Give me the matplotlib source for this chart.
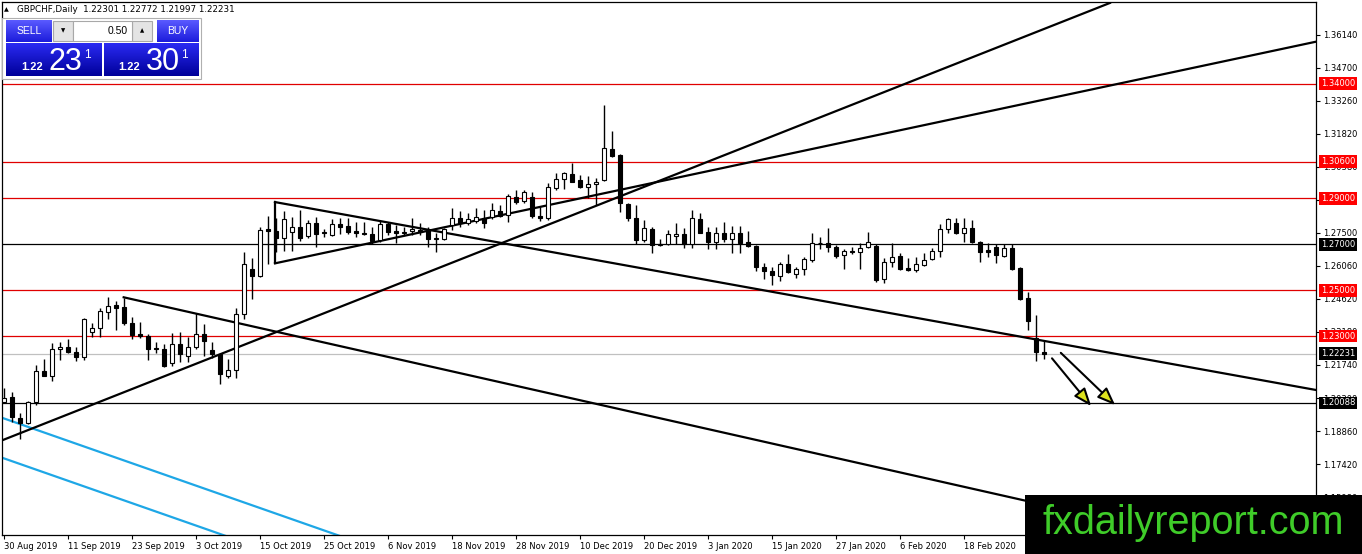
import numpy as np
import pandas as pd
import matplotlib
matplotlib.use("Agg")
import matplotlib.pyplot as plt
from matplotlib.colors import LinearSegmentedColormap
from matplotlib.patches import Rectangle

# GBPCHF daily candles, 30 Aug 2019 .. 3 Mar 2020
opens = [
    1.2011, 1.2034, 1.1943, 1.1921, 1.2012, 1.2148, 1.2126, 1.2244, 1.2252, 1.2230,
    1.2209, 1.2318, 1.2335, 1.2405, 1.2435, 1.2427, 1.2357, 1.2309, 1.2300, 1.2248,
    1.2244, 1.2182, 1.2265, 1.2213, 1.2252, 1.2309, 1.2239, 1.2222, 1.2126, 1.2152,
    1.2396, 1.2592, 1.2562, 1.2767, 1.2758, 1.2727, 1.2754, 1.2776, 1.2736, 1.2793,
    1.2754, 1.2741, 1.2789, 1.2780, 1.2759, 1.2751, 1.2745, 1.2719, 1.2789, 1.2758,
    1.2750, 1.2758, 1.2762, 1.2762, 1.2722, 1.2722, 1.2784, 1.2813, 1.2792, 1.2803,
    1.2813, 1.2820, 1.2847, 1.2828, 1.2905, 1.2889, 1.2905, 1.2825, 1.2816, 1.2944,
    1.2985, 1.3005, 1.2980, 1.2949, 1.2963, 1.2980, 1.3116, 1.3089, 1.2874, 1.2813,
    1.2719, 1.2767, 1.2697, 1.2700, 1.2738, 1.2744, 1.2701, 1.2809, 1.2752, 1.2711,
    1.2748, 1.2722, 1.2748, 1.2709, 1.2693, 1.2600, 1.2585, 1.2562, 1.2614, 1.2571,
    1.2591, 1.2632, 1.2707, 1.2707, 1.2690, 1.2653, 1.2671, 1.2665, 1.2687, 1.2694,
    1.2549, 1.2622, 1.2649, 1.2598, 1.2588, 1.2610, 1.2635, 1.2671, 1.2767, 1.2792,
    1.2748, 1.2770, 1.2709, 1.2675, 1.2690, 1.2650, 1.2685, 1.2595, 1.2465, 1.2293,
    1.22301,
]
highs = [
    1.2075, 1.2056, 1.1965, 1.2017, 1.2174, 1.2200, 1.2270, 1.2274, 1.2287, 1.2252,
    1.2379, 1.2357, 1.2422, 1.2470, 1.2453, 1.2466, 1.2383, 1.2361, 1.2309, 1.2274,
    1.2265, 1.2313, 1.2318, 1.2296, 1.2400, 1.2352, 1.2274, 1.2226, 1.2200, 1.2422,
    1.2666, 1.2640, 1.2776, 1.2823, 1.2815, 1.2845, 1.2819, 1.2850, 1.2806, 1.2819,
    1.2767, 1.2810, 1.2815, 1.2815, 1.2799, 1.2799, 1.2777, 1.2803, 1.2799, 1.2784,
    1.2774, 1.2813, 1.2794, 1.2774, 1.2748, 1.2770, 1.2857, 1.2846, 1.2836, 1.2858,
    1.2850, 1.2880, 1.2871, 1.2919, 1.2937, 1.2937, 1.2929, 1.2863, 1.2966, 1.3010,
    1.3014, 1.3053, 1.3002, 1.2998, 1.2989, 1.3307, 1.3194, 1.3092, 1.2879, 1.2871,
    1.2806, 1.2777, 1.2723, 1.2762, 1.2792, 1.2770, 1.2850, 1.2835, 1.2777, 1.2777,
    1.2796, 1.2780, 1.2780, 1.2759, 1.2697, 1.2617, 1.2602, 1.2624, 1.2658, 1.2602,
    1.2643, 1.2751, 1.2731, 1.2770, 1.2697, 1.2678, 1.2690, 1.2704, 1.2752, 1.2700,
    1.2642, 1.2704, 1.2661, 1.2639, 1.2646, 1.2661, 1.2685, 1.2787, 1.2813, 1.2813,
    1.2813, 1.2806, 1.2714, 1.2704, 1.2700, 1.2700, 1.2700, 1.2602, 1.2491, 1.2392,
    1.22772,
]
lows = [
    1.2007, 1.1925, 1.1851, 1.1917, 1.1999, 1.2124, 1.2104, 1.2196, 1.2226, 1.2191,
    1.2196, 1.2296, 1.2296, 1.2374, 1.2326, 1.2348, 1.2287, 1.2291, 1.2196, 1.2226,
    1.2165, 1.2169, 1.2187, 1.2187, 1.2244, 1.2213, 1.2204, 1.2091, 1.2117, 1.2117,
    1.2374, 1.2462, 1.2557, 1.2614, 1.2666, 1.2671, 1.2671, 1.2714, 1.2727, 1.2688,
    1.2732, 1.2736, 1.2745, 1.2745, 1.2733, 1.2741, 1.2701, 1.2711, 1.2741, 1.2704,
    1.2741, 1.2741, 1.2741, 1.2687, 1.2668, 1.2719, 1.2762, 1.2777, 1.2784, 1.2793,
    1.2771, 1.2810, 1.2820, 1.2799, 1.2876, 1.2880, 1.2816, 1.2802, 1.2806, 1.2937,
    1.2941, 1.2970, 1.2944, 1.2900, 1.2871, 1.2976, 1.3082, 1.2842, 1.2802, 1.2700,
    1.2711, 1.2661, 1.2692, 1.2697, 1.2700, 1.2683, 1.2683, 1.2748, 1.2678, 1.2678,
    1.2711, 1.2663, 1.2663, 1.2690, 1.2585, 1.2547, 1.2523, 1.2541, 1.2576, 1.2552,
    1.2566, 1.2624, 1.2678, 1.2668, 1.2640, 1.2591, 1.2656, 1.2592, 1.2683, 1.2537,
    1.2530, 1.2602, 1.2588, 1.2585, 1.2578, 1.2605, 1.2632, 1.2646, 1.2748, 1.2744,
    1.2711, 1.2704, 1.2624, 1.2646, 1.2617, 1.2646, 1.2588, 1.2457, 1.2326, 1.2191,
    1.21997,
]
closes = [
    1.2029, 1.1947, 1.1921, 1.2012, 1.2148, 1.2126, 1.2244, 1.2252, 1.2230, 1.2209,
    1.2374, 1.2335, 1.2409, 1.2431, 1.2422, 1.2357, 1.2305, 1.2300, 1.2244, 1.2244,
    1.2169, 1.2265, 1.2222, 1.2252, 1.2309, 1.2278, 1.2222, 1.2135, 1.2152, 1.2396,
    1.2614, 1.2562, 1.2762, 1.2758, 1.2727, 1.2810, 1.2776, 1.2727, 1.2793, 1.2745,
    1.2750, 1.2789, 1.2776, 1.2754, 1.2748, 1.2745, 1.2716, 1.2789, 1.2755, 1.2748,
    1.2755, 1.2765, 1.2755, 1.2722, 1.2726, 1.2765, 1.2813, 1.2792, 1.2809, 1.2818,
    1.2792, 1.2850, 1.2823, 1.2911, 1.2886, 1.2927, 1.2825, 1.2816, 1.2949, 1.2983,
    1.3010, 1.2973, 1.2949, 1.2963, 1.2971, 1.3121, 1.3086, 1.2879, 1.2813, 1.2719,
    1.2770, 1.2697, 1.2700, 1.2744, 1.2744, 1.2700, 1.2813, 1.2751, 1.2711, 1.2748,
    1.2722, 1.2748, 1.2707, 1.2694, 1.2602, 1.2585, 1.2566, 1.2614, 1.2581, 1.2591,
    1.2635, 1.2707, 1.2704, 1.2687, 1.2650, 1.2671, 1.2667, 1.2685, 1.2711, 1.2544,
    1.2622, 1.2646, 1.2591, 1.2588, 1.2613, 1.2632, 1.2671, 1.2767, 1.2809, 1.2748,
    1.2770, 1.2709, 1.2668, 1.2665, 1.2653, 1.2685, 1.2592, 1.2462, 1.2366, 1.2229,
    1.22231,
]

# horizontal levels
red_levels = [1.34, 1.306, 1.29, 1.25, 1.23]
black_levels = [1.27, 1.20088]
bid_level = 1.22231

# drawn trend lines: (bar, price) -> (bar, price)
black_lines = [
    ((-0.5, 1.1842), (138.25, 1.3752)),
    ((33.875, 1.2884), (164.0, 1.2065)),
    ((33.875, 1.2617), (164.0, 1.3583)),
    ((33.875, 1.2617), (33.875, 1.2884)),
    ((14.96, 1.2469), (164.0, 1.1297)),
]
cyan_lines = [
    ((-0.5, 1.1947), (45.0, 1.1392)),
    ((-0.5, 1.1773), (30.0, 1.1401)),
]
arrows = [
    ((131.0, 1.2203), (135.9, 1.1995)),
    ((132.1, 1.2227), (138.9, 1.1999)),
]

y_ticks = [1.15980, 1.17420, 1.18860, 1.20300, 1.21740, 1.23180, 1.24620, 1.26060,
           1.27500, 1.28940, 1.30380, 1.31820, 1.33260, 1.34700, 1.36140]

n = len(closes)
days = pd.bdate_range("2019-08-30", periods=n + 10)
days = days[~days.isin(pd.to_datetime(["2019-12-25", "2020-01-01"]))][:n]
x = np.arange(n)

RED = "#ff0000"
W, H = 1362, 554
fig = plt.figure(figsize=(W / 100, H / 100), dpi=100)
ax = fig.add_axes([2 / W, 19 / H, 1314 / W, 533 / H])
ax.set_xlim(-0.25, 164)
ax.set_ylim(1.1433, 1.3756)

for lv in red_levels:
    ax.axhline(lv, color="#e00000", lw=0.9, zorder=1)
for lv in black_levels:
    ax.axhline(lv, color="black", lw=0.9, zorder=1)
ax.axhline(bid_level, color="#c0c0c0", lw=0.9, zorder=1)

for (x0, y0), (x1, y1) in cyan_lines:
    ax.plot([x0, x1], [y0, y1], color="#1ea7e6", lw=1.6, zorder=2)
for (x0, y0), (x1, y1) in black_lines:
    ax.plot([x0, x1], [y0, y1], color="black", lw=1.6, zorder=2)

# candles
o = np.array(opens)
c = np.array(closes)
ax.vlines(x, lows, highs, color="black", lw=1.0, zorder=3)
up = c >= o
bottom = np.minimum(o, c)
height = np.maximum(np.abs(c - o), 0.00005)
ax.bar(x, height, bottom=bottom, width=0.62,
       color=np.where(up, "white", "black"), edgecolor="black", linewidth=0.8, zorder=4)

for (x0, y0), (x1, y1) in arrows:
    ax.annotate("", xy=(x1, y1), xytext=(x0, y0), zorder=5,
                arrowprops=dict(arrowstyle="-|>,head_length=0.9,head_width=0.35",
                                fc="#dde21e", ec="black", lw=1.5, mutation_scale=12,
                                shrinkA=0, shrinkB=0))

# axes styling (MT4 look)
for sp in ax.spines.values():
    sp.set_color("black")
    sp.set_linewidth(0.9)
ax.yaxis.tick_right()
ax.set_yticks(y_ticks, [f"{t:.5f}" for t in y_ticks])
tick_pos = list(range(0, n, 8))
ax.set_xticks(tick_pos, [f"{days[i].day} {days[i]:%b %Y}" for i in tick_pos], ha="left")
ax.tick_params(axis="both", labelsize=6, length=3, width=0.8, pad=2, colors="black")

# right-hand price tags
for lv, col in [(l, RED) for l in red_levels] + [(l, "black") for l in black_levels] + [(bid_level, "black")]:
    ax.text(1.0040, lv, f"{lv:.5f}", transform=ax.get_yaxis_transform(),
            ha="left", va="center", fontsize=6, color="white", zorder=10, clip_on=False,
            bbox=dict(boxstyle="square,pad=0.22", fc=col, ec="none"))

# overlay for header, trade panel and watermark (pixel coords)
ov = fig.add_axes([0, 0, 1, 1], zorder=5)
ov.patch.set_alpha(0)
ov.axis("off")
ov.set_autoscale_on(False)
ov.set_xlim(0, W)
ov.set_ylim(H, 0)


def grad_box(x0, y0, x1, y1, top, bot):
    cm = LinearSegmentedColormap.from_list("g", [top, bot])
    ov.imshow(np.linspace(0, 1, 40).reshape(-1, 1), cmap=cm, aspect="auto",
              extent=(x0, x1, y1, y0), zorder=2)


ov.text(4, 10, "▲", fontsize=4.5, va="center", ha="left")
ov.text(17, 10, "GBPCHF,Daily  1.22301 1.22772 1.21997 1.22231",
        fontsize=6.3, va="center", ha="left")

ov.add_patch(Rectangle((2, 18), 199, 61, fc="white", ec="#b0b0b0", lw=0.8, zorder=1))
grad_box(6, 20, 52, 42, "#5a5aff", "#1c1cdc")
grad_box(157, 20, 199, 42, "#5a5aff", "#1c1cdc")
grad_box(6, 43, 102, 76, "#2a2af2", "#00009a")
grad_box(104, 43, 199, 76, "#2a2af2", "#00009a")
for bx, bw in [(53, 20), (132, 20)]:
    ov.add_patch(Rectangle((bx, 21), bw, 20, fc="#e4e4e4", ec="#a8a8a8", lw=0.8, zorder=2))
ov.add_patch(Rectangle((73, 21), 59, 20, fc="white", ec="#a8a8a8", lw=0.8, zorder=2))
ov.text(63, 31, "▼", fontsize=4, ha="center", va="center", zorder=3)
ov.text(142, 31, "▲", fontsize=4, ha="center", va="center", zorder=3)
ov.text(128, 31, "0.50", fontsize=7.5, ha="right", va="center", family="Liberation Sans", zorder=3)
ov.text(29, 31, "SELL", fontsize=7.5, ha="center", va="center", color="white",
        family="Liberation Sans", zorder=3)
ov.text(178, 31, "BUY", fontsize=7.5, ha="center", va="center", color="white",
        family="Liberation Sans", zorder=3)
for x0, big in [(21, "23"), (118, "30")]:
    ov.text(x0, 70.5, "1.22", fontsize=8, weight="bold", color="white",
            family="Liberation Sans", va="baseline", zorder=3)
    ov.text(x0 + 28, 70.5, big, fontsize=22, color="white",
            family="Liberation Sans", va="baseline", zorder=3)
    ov.text(x0 + 63, 58, "1", fontsize=8.5, color="white",
            family="Liberation Sans", va="baseline", zorder=3)

ov.add_patch(Rectangle((1025, 495), 337, 60, fc="black", ec="none", zorder=4))
ov.text(1193, 523.5, "fxdailyreport.com", fontsize=28.5, color="#3fcc29",
        family="Liberation Sans", ha="center", va="center", zorder=5)

fig.savefig("out.png", dpi=100, facecolor="white")
